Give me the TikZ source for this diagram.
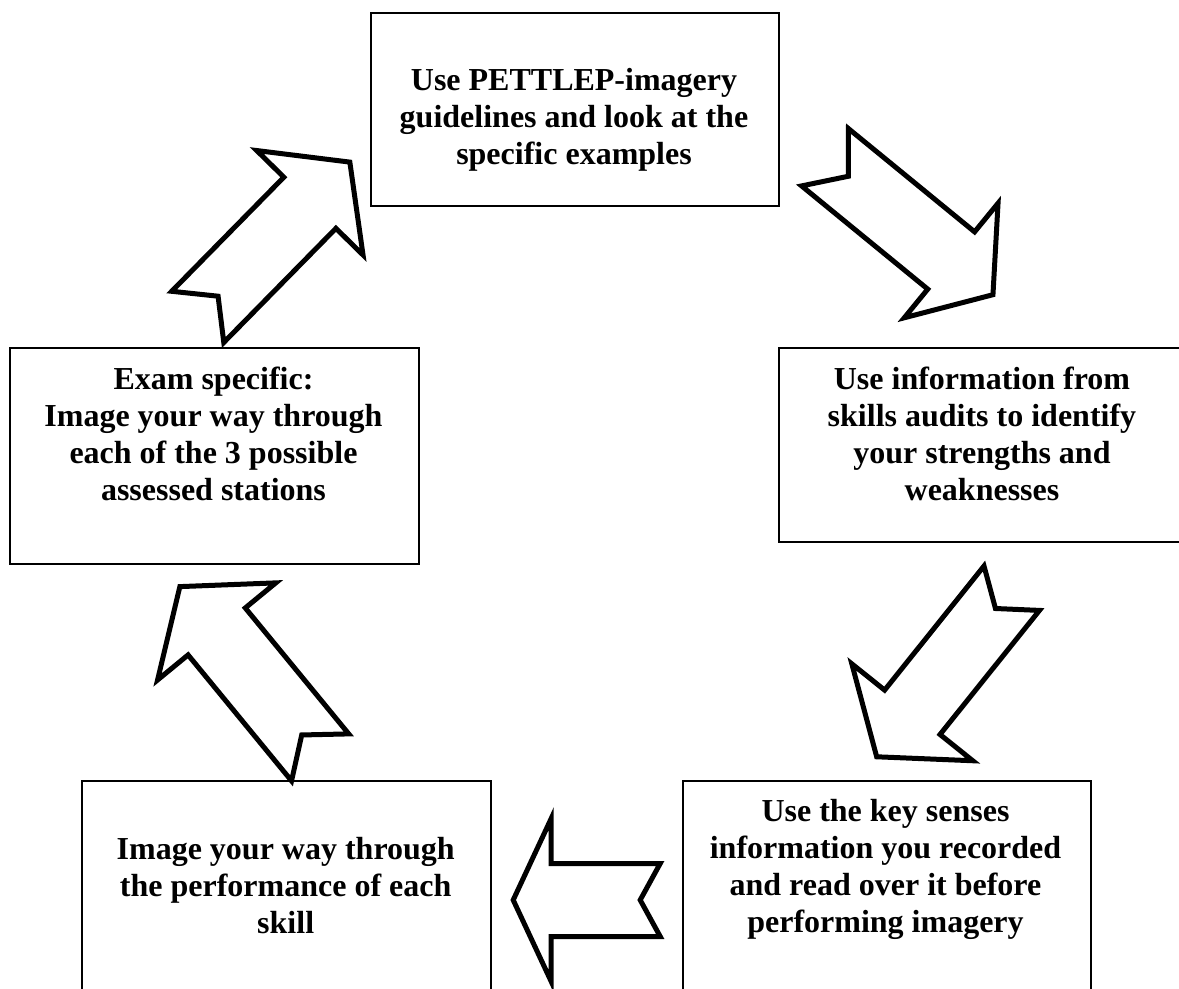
\documentclass[tikz,border=0pt]{standalone}
\usepackage{fontspec}
\setmainfont{Liberation Serif}
\begin{document}
\begin{tikzpicture}[x=0.5pt,y=-0.5pt,
  box/.style={draw=black,line width=0.9pt,fill=white,inner sep=0pt},
  label/.style={align=center,font=\bfseries\fontsize{16}{18.5}\selectfont,inner sep=0pt},
  blockarrow/.style={draw=black,line width=2.5pt,fill=white,line join=miter}]
\useasboundingbox (0,0) rectangle (1179,989);
\clip (0,0) rectangle (1179,989);

% notched block arrow: centre (#1,#2), direction #3 (deg), length #4,
% shaft width #5, head width #6, head length #7, notch depth #8
\newcommand\notchedarrow[8]{%
  \begin{scope}[shift={(#1,#2)},rotate=#3]
    \draw[blockarrow]
      ({-#4/2},{#5/2}) -- ({#4/2-#7},{#5/2}) -- ({#4/2-#7},{#6/2})
      -- ({#4/2},0) -- ({#4/2-#7},{-#6/2}) -- ({#4/2-#7},{-#5/2})
      -- ({-#4/2},{-#5/2}) -- ({-#4/2+#8},0) -- cycle;
  \end{scope}}

% boxes
\node[box,minimum width=204pt,minimum height=96.5pt,anchor=north west] (guide) at (370,12) {};
\node[box,minimum width=204pt,minimum height=97pt,anchor=north west] (audit) at (778,347) {};
\node[box,minimum width=204.5pt,minimum height=108pt,anchor=north west] (exam) at (9,347) {};
\node[box,minimum width=204.5pt,minimum height=110pt,anchor=north west] (skill) at (81,780) {};
\node[box,minimum width=204pt,minimum height=110pt,anchor=north west] (senses) at (682,780) {};

% texts
\node[label] (guideText) at (574,119.5) {Use PETTLEP-imagery\\guidelines and look at the\\specific examples};
\node[label] (auditText) at (982,434) {Use information from\\skills audits to identify\\your strengths and\\weaknesses};
\node[label] (examText) at (213.5,434) {Exam specific:\\Image your way through\\each of the 3 possible\\assessed stations};
\node[label] (skillText) at (285.7,885.5) {Image your way through\\the performance of each\\skill};
\node[label] (sensesText) at (885.5,869.5) {Use the key senses\\information you recorded\\and read over it before\\performing imagery};

% cycle arrows
\notchedarrow{273.8}{239.5}{45.5}{217}{73}{149}{57}{29}
\notchedarrow{909}{226}{-39.3}{217}{74}{148}{54}{30}
\notchedarrow{944.2}{672.5}{-128.7}{216}{71}{155}{57}{26}
\notchedarrow{586.7}{900}{180}{147}{73}{163}{38}{20}
\notchedarrow{250}{672}{129.4}{221}{74}{153}{58}{29}
\end{tikzpicture}
\end{document}
